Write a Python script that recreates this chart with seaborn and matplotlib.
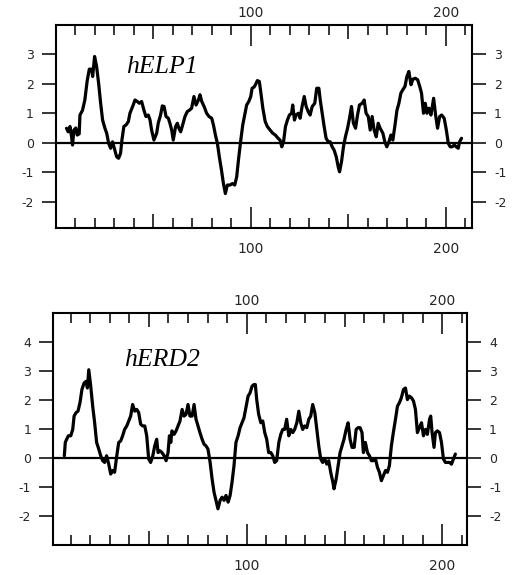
import matplotlib
matplotlib.use('Agg')
import matplotlib.pyplot as plt
import matplotlib.transforms as mtransforms
import seaborn as sns
import pandas as pd

# hydropathy profiles (residue position, hydropathy)
elp1_pos = [5.6, 6.5, 7.4, 8.2, 8.7, 9.4, 10.4, 11.1, 12.1, 12.5, 13.8, 15.0, 16.2, 17.3, 18.5, 19.0,
            20.0, 21.0, 22.1, 23.1, 24.1, 25.3, 26.2, 27.2, 28.2, 29.2, 29.9, 31.3, 32.3, 33.3, 34.0,
            35.0, 36.1, 37.3, 38.1, 39.5, 40.7, 41.9, 42.9, 44.1, 45.3, 46.3, 47.5, 48.4, 49.2, 50.4,
            51.8, 52.6, 53.8, 54.7, 55.6, 56.6, 57.8, 58.6, 59.5, 60.3, 61.5, 62.4, 63.2, 64.1, 65.1,
            66.3, 67.5, 68.5, 69.7, 70.9, 72.0, 73.2, 74.0, 74.9, 76.1, 77.4, 78.6, 80.0, 80.9, 81.9,
            82.9, 83.9, 85.0, 86.0, 87.0, 88.0, 89.4, 90.6, 91.8, 92.8, 93.8, 94.9, 95.9, 96.9, 97.9,
            99.0, 100.0, 100.7, 101.7, 102.4, 103.4, 104.4, 105.1, 106.2, 107.4, 108.5, 109.9, 111.3,
            112.6, 114.0, 115.0, 115.9, 116.8, 117.8, 118.8, 119.8, 120.9, 121.5, 122.4, 123.2, 124.4,
            125.3, 126.3, 127.4, 128.4, 129.4, 130.4, 131.5, 132.8, 133.8, 134.9, 135.6, 136.6, 137.6,
            138.6, 139.7, 140.7, 141.7, 142.7, 143.8, 144.8, 145.5, 146.5, 147.5, 148.5, 149.6, 150.6,
            151.6, 152.6, 153.7, 154.7, 155.7, 157.1, 158.1, 159.1, 160.2, 161.2, 162.2, 163.2, 164.3,
            165.3, 166.3, 167.7, 168.7, 169.7, 170.8, 171.8, 172.8, 173.8, 174.9, 175.9, 176.9, 177.9,
            179.0, 180.0, 181.0, 182.1, 183.1, 184.3, 185.5, 186.5, 187.5, 188.5, 189.4, 190.3, 191.3,
            192.3, 193.7, 194.7, 195.7, 196.8, 197.8, 199.1, 200.2, 201.2, 202.2, 203.2, 204.3, 205.3,
            206.3, 207.0, 208.0]
elp1_val = [0.49, 0.37, 0.55, 0.20, -0.08, 0.43, 0.50, 0.26, 0.30, 0.94, 1.10, 1.45, 2.10, 2.50, 2.50, 2.25,
            2.93, 2.60, 2.00, 1.34, 0.77, 0.49, 0.32, -0.02, -0.19, 0.03, -0.14, -0.48, -0.53, -0.36, 0.09,
            0.55, 0.60, 0.72, 1.00, 1.23, 1.45, 1.40, 1.34, 1.40, 1.10, 0.89, 0.94, 0.77, 0.43, 0.09,
            0.32, 0.66, 0.94, 1.25, 1.23, 0.89, 0.83, 0.66, 0.43, 0.09, 0.55, 0.66, 0.49, 0.37, 0.60,
            0.89, 1.06, 1.10, 1.17, 1.57, 1.28, 1.45, 1.63, 1.40, 1.23, 1.00, 0.89, 0.83, 0.60, 0.26,
            -0.02, -0.48, -0.93, -1.39, -1.73, -1.44, -1.44, -1.39, -1.44, -1.16, -0.53, 0.09, 0.60, 0.94, 1.28,
            1.40, 1.57, 1.85, 1.89, 1.97, 2.11, 2.08, 1.74, 1.17, 0.72, 0.55, 0.43, 0.32,
            0.26, 0.15, 0.09, -0.14, 0.03, 0.55, 0.77, 0.94, 1.00, 1.28, 0.77, 0.94, 1.00,
            0.83, 1.23, 1.57, 1.23, 1.06, 0.94, 1.23, 1.34, 1.85, 1.85, 1.45, 1.00, 0.55,
            0.15, 0.03, 0.03, -0.14, -0.25, -0.48, -0.82, -0.99, -0.65, -0.14, 0.20, 0.49, 0.83,
            1.23, 0.66, 0.49, 0.94, 1.28, 1.34, 1.45, 1.00, 0.89, 0.43, 0.89, 0.43, 0.20,
            0.66, 0.49, 0.32, 0.03, -0.14, 0.03, 0.26, 0.09, 0.55, 1.10, 1.34, 1.68, 1.80,
            1.91, 2.25, 2.42, 1.97, 2.16, 2.19, 2.14, 1.93, 1.68, 1.00, 1.34, 1.00, 1.17,
            0.94, 1.51, 0.94, 0.49, 0.89, 0.94, 0.83, 0.43, -0.02, -0.14, -0.14, -0.08, -0.14,
            -0.19, 0.03, 0.15]

erd2_pos = [6.8, 7.3, 8.0, 8.9, 10.1, 11.1, 11.8, 12.8, 13.8, 14.8, 15.8, 16.9, 17.9, 18.6, 19.3, 20.3,
            21.3, 22.3, 23.3, 24.4, 25.4, 26.4, 27.4, 28.4, 29.5, 30.5, 31.5, 32.5, 33.6, 34.6, 35.6,
            36.6, 37.6, 38.7, 39.7, 40.7, 41.7, 42.8, 43.8, 44.8, 45.8, 46.8, 47.9, 48.9, 49.9, 50.9,
            52.0, 53.0, 54.0, 54.7, 55.7, 56.7, 57.8, 58.8, 59.8, 60.5, 61.2, 61.8, 62.9, 63.9, 64.9,
            65.9, 67.0, 68.0, 69.0, 70.0, 71.0, 72.1, 73.1, 74.1, 75.1, 76.1, 77.2, 78.2, 79.2, 80.2,
            81.3, 82.3, 83.3, 84.3, 85.3, 86.4, 87.4, 88.4, 89.4, 90.5, 91.5, 92.5, 93.5, 94.5, 95.6,
            96.6, 97.6, 98.6, 99.7, 100.7, 101.7, 102.7, 103.7, 104.4, 105.1, 106.1, 107.2, 108.2, 109.2,
            110.2, 111.2, 112.3, 113.3, 114.3, 115.3, 116.4, 117.4, 118.4, 119.4, 120.4, 121.5, 122.5,
            123.5, 124.5, 125.6, 126.6, 127.6, 128.6, 129.6, 130.7, 131.7, 132.7, 133.7, 134.8, 135.8,
            136.8, 137.8, 138.8, 139.9, 140.9, 141.9, 142.9, 144.0, 144.6, 145.7, 146.7, 147.7, 148.7,
            149.7, 150.8, 151.8, 152.8, 153.8, 154.9, 155.9, 156.9, 157.9, 158.9, 159.6, 160.6, 161.7,
            162.7, 163.7, 164.7, 165.8, 166.8, 167.8, 168.8, 169.8, 170.9, 171.9, 172.9, 173.9, 174.9,
            176.0, 177.0, 178.0, 179.0, 180.1, 181.1, 182.1, 183.1, 184.2, 185.2, 186.2, 187.2, 188.2,
            189.3, 190.3, 191.3, 192.3, 193.4, 194.0, 194.7, 195.7, 196.4, 197.4, 198.5, 199.5, 200.5,
            201.5, 202.6, 203.6, 204.6, 205.6, 206.6]
erd2_val = [0.08, 0.54, 0.65, 0.77, 0.77, 0.99, 1.45, 1.57, 1.62, 1.91, 2.37, 2.59, 2.65, 2.42, 3.05, 2.48,
            1.79, 1.22, 0.54, 0.31, 0.08, -0.09, -0.15, 0.08, -0.21, -0.55, -0.43, -0.49, 0.08, 0.54, 0.59,
            0.77, 0.99, 1.11, 1.28, 1.45, 1.85, 1.62, 1.68, 1.57, 1.17, 1.11, 1.11, 0.77, -0.03, -0.15,
            0.08, 0.42, 0.65, 0.19, 0.25, 0.19, 0.08, -0.09, 0.19, 0.77, 0.54, 0.94, 0.82, 0.94, 1.11,
            1.28, 1.68, 1.45, 1.51, 1.85, 1.45, 1.45, 1.85, 1.34, 1.11, 0.88, 0.65, 0.48, 0.42, 0.31,
            -0.15, -0.72, -1.18, -1.46, -1.75, -1.46, -1.35, -1.46, -1.29, -1.52, -1.29, -0.83, -0.26, 0.54, 0.77,
            1.05, 1.22, 1.39, 1.79, 2.14, 2.25, 2.48, 2.54, 2.54, 2.02, 1.51, 1.22, 1.28, 0.88,
            0.65, 0.19, 0.19, 0.08, -0.15, -0.09, 0.54, 0.82, 0.99, 0.99, 1.34, 0.77, 0.99,
            0.88, 0.99, 1.22, 1.62, 1.22, 0.99, 1.11, 1.05, 1.34, 1.45, 1.85, 1.57, 0.99,
            0.42, -0.03, -0.15, -0.03, -0.21, -0.09, -0.49, -0.83, -1.06, -0.72, -0.26, 0.19, 0.42,
            0.65, 0.99, 1.22, 0.65, 0.37, 0.37, 0.99, 1.05, 1.05, 0.88, 0.19, 0.54, 0.19,
            0.08, -0.09, -0.09, -0.03, -0.32, -0.49, -0.78, -0.61, -0.43, -0.49, -0.26, 0.42, 0.88,
            1.34, 1.79, 1.91, 2.08, 2.37, 2.42, 2.02, 2.14, 2.08, 1.97, 1.68, 0.88, 1.05,
            1.22, 0.77, 0.99, 0.82, 1.34, 1.45, 0.88, 0.37, 0.88, 0.94, 0.88, 0.54, -0.03,
            -0.15, -0.15, -0.15, -0.21, -0.03, 0.14]

panel_names = ['hELP1', 'hERD2']
y_ticks_top = [-2, -1, 0, 1, 2, 3]
y_ticks_bottom = [-2, -1, 0, 1, 2, 3, 4]
x_major = [50, 100, 150, 200]
x_labels = ['', '100', '', '200']
x_minor = list(range(10, 211, 10))

sns.set_style('white')
plt.rcParams['font.family'] = ['DejaVu Sans']
plt.rcParams['axes.unicode_minus'] = False

fig = plt.figure(figsize=(5.18, 5.75), dpi=100)
ax1 = fig.add_axes([0.108, 0.6035, 0.803, 0.353])
ax2 = fig.add_axes([0.103, 0.0522, 0.798, 0.403])

panels = [
    (ax1, elp1_pos, elp1_val, panel_names[0], y_ticks_top, (-2.9, 4.0), (0.2, 213.3), (36, 2.38)),
    (ax2, erd2_pos, erd2_val, panel_names[1], y_ticks_bottom, (-3.0, 5.0), (1.2, 212.4), (37.5, 3.17)),
]

# nudge the top x labels closer to the frame than the bottom ones
top_shift = mtransforms.ScaledTranslation(0, -0.09, fig.dpi_scale_trans)

for ax, pos, val, name, yt, ylim, xlim, txt in panels:
    df = pd.DataFrame({'residue': pos, 'hydropathy': val})
    sns.lineplot(data=df, x='residue', y='hydropathy', ax=ax, color='black',
                 lw=2.3, estimator=None, sort=False)
    ax.axhline(0, color='black', lw=1.6, zorder=1)
    ax.set_xlim(*xlim)
    ax.set_ylim(*ylim)
    ax.set_xlabel('')
    ax.set_ylabel('')

    ax.set_yticks(yt)
    ax.set_yticklabels([str(v) for v in yt])
    ax.tick_params(axis='y', which='major', direction='out', length=10, width=1.3,
                   left=True, right=True, labelleft=True, labelright=True,
                   labelsize=9, pad=6)

    ax.set_xticks(x_major)
    ax.set_xticklabels(x_labels)
    ax.set_xticks(x_minor, minor=True)
    ax.tick_params(axis='x', which='both', direction='in', width=1.3,
                   bottom=True, top=True, labelbottom=True, labeltop=True,
                   labelsize=10, pad=10)
    ax.tick_params(axis='x', which='minor', length=7)
    for v, tick in zip(x_major, ax.xaxis.get_major_ticks()):
        L = 15 if v % 100 == 0 else 10
        tick.tick1line.set_markersize(L)
        tick.tick2line.set_markersize(L)
        tick.label2.set_transform(tick.label2.get_transform() + top_shift)

    for s in ax.spines.values():
        s.set_visible(True)
        s.set_linewidth(1.5)
        s.set_color('black')

    ax.text(txt[0], txt[1], name, fontsize=18.5, style='italic',
            family=['Liberation Serif', 'DejaVu Serif'], color='black')

fig.savefig('out.png', dpi=100)
